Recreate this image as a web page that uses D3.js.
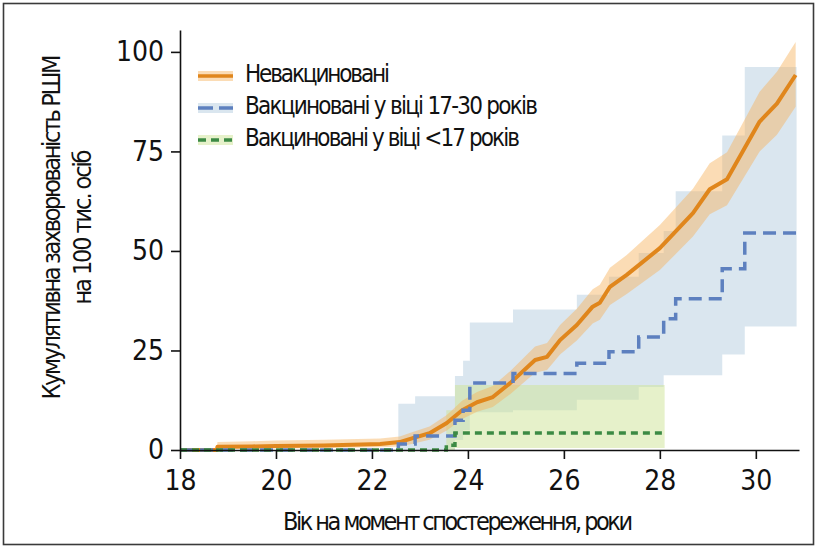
<!DOCTYPE html>
<html><head><meta charset="utf-8">
<script src="https://cdn.jsdelivr.net/npm/d3@7"></script>
<style>
html,body{margin:0;padding:0;background:#fff;}
svg{display:block;}
text{font-family:"Liberation Sans Narrow","DejaVu Sans Condensed","Arial Narrow",sans-serif;fill:#111;}
</style></head>
<body>
<script>
// ---- data ----
const xTicks = [18, 20, 22, 24, 26, 28, 30];
const yTicks = [0, 25, 50, 75, 100];

const unvacAges  = [18, 18.77, 18.78, 19.5, 20, 21, 22.17, 22.58, 22.85, 23.2, 23.56, 23.88, 24.19, 24.52, 24.88, 25.4, 25.65, 25.92, 26.27, 26.6, 26.75, 26.96, 27.31, 28.0, 28.69, 29.04, 29.4, 30.08, 30.44, 30.83];
const unvacVals  = [0, 0, 0.8, 0.9, 1.0, 1.1, 1.5, 2, 3, 4.2, 6.8, 10, 12, 13.3, 16.8, 22.6, 23.4, 27.6, 31.4, 36, 37, 41, 44, 50.7, 59.5, 65.5, 68, 82.5, 87, 94.2];
const unvacLower = [0, 0, 0.3, 0.3, 0.4, 0.5, 0.7, 0.9, 1.6, 2.6, 4.9, 7.8, 9.6, 10.8, 14, 19.4, 20.1, 24, 27.5, 31.8, 32.7, 36.4, 39.2, 45.2, 53.6, 59.2, 61.5, 75, 79.2, 86.2];
const unvacUpper = [0, 0, 2, 2.2, 2.4, 2.6, 2.9, 3.4, 4.5, 5.9, 8.8, 12.4, 14.6, 16.1, 19.8, 26, 26.9, 31.4, 35.5, 40.4, 41.5, 45.8, 49, 56.5, 65.6, 72, 74.8, 90, 95, 102.5];

const vac1730Ages  = [18, 22.55, 22.9, 23.73, 23.9, 24.04, 24.94, 26.27, 26.94, 27.56, 28.08, 28.33, 29.3, 29.77, 30.85];
const vac1730Vals  = [0, 1.5, 3.5, 7.5, 10, 16.8, 19.2, 21.8, 24.7, 28.4, 33, 38, 45.5, 54.5, 54.5];
const vac1730Lower = [0, 0, 0, 2.5, 5, 9.5, 10, 12.6, 12.6, 15.8, 18.8, 18.8, 24, 31, 31];
const vac1730Upper = [0, 11.6, 13.5, 18.6, 22.4, 32, 35.3, 39, 43.5, 49.5, 55, 65, 79, 96.2, 96.2];

const vacU17Ages  = [18, 23.55, 23.73, 28.1];
const vacU17Vals  = [0, 1.2, 4.3, 4.3];
const vacU17Lower = [0, 0, 0.5, 0.5];
const vacU17Upper = [0, 10, 16.3, 16.3];

const legendLabels = ["Невакциновані", "Вакциновані у віці 17-30 років", "Вакциновані у віці <17 років"];
const xTitle = "Вік на момент спостереження, роки";
const yTitle1 = "Кумулятивна захворюваність РШМ";
const yTitle2 = "на 100 тис. осіб";

// ---- drawing ----
const W = 819, H = 549;
const svg = d3.select("body").append("svg").attr("width", W).attr("height", H);
svg.append("rect").attr("x", 3.5).attr("y", 3.5).attr("width", 810).attr("height", 541)
  .attr("fill", "#fff").attr("stroke", "#3a3a3a").attr("stroke-width", 1.6);

const x = d3.scaleLinear().domain([18, 30.9]).range([180, 799]);
const y = d3.scaleLinear().domain([0, 105.5]).range([450, 30]);

const zip = (a, v, lo, hi) => a.map((d, i) => ({a: d, v: v[i], lo: lo ? lo[i] : 0, hi: hi ? hi[i] : 0}));
const unvac = zip(unvacAges, unvacVals, unvacLower, unvacUpper);
const v1730 = zip(vac1730Ages, vac1730Vals, vac1730Lower, vac1730Upper);
const vU17 = zip(vacU17Ages, vacU17Vals, vacU17Lower, vacU17Upper);

const C = {
  orange: "#e0861c", orangeBand: "rgba(246,178,92,0.45)",
  blue: "#5d80bf", blueBand: "rgba(168,196,218,0.42)",
  green: "#3c8a44", greenBand: "rgba(205,228,150,0.5)"
};

const areaStep = d3.area().x(d => x(d.a)).y0(d => y(d.lo)).y1(d => y(d.hi)).curve(d3.curveStepAfter);
const areaLin = d3.area().x(d => x(d.a)).y0(d => y(d.lo)).y1(d => y(d.hi));
const lineStep = d3.line().x(d => x(d.a)).y(d => y(d.v)).curve(d3.curveStepAfter);
const lineLin = d3.line().x(d => x(d.a)).y(d => y(d.v));

svg.append("path").datum(v1730).attr("d", areaStep).attr("fill", C.blueBand);
svg.append("path").datum(vU17).attr("d", areaStep).attr("fill", C.greenBand);
svg.append("path").datum(unvac).attr("d", areaLin).attr("fill", C.orangeBand);

svg.append("path").datum(unvac).attr("d", lineLin).attr("fill", "none")
  .attr("stroke", C.orange).attr("stroke-width", 4).attr("stroke-linejoin", "round");
svg.append("path").datum(v1730).attr("d", lineStep).attr("fill", "none")
  .attr("stroke", C.blue).attr("stroke-width", 3.5).attr("stroke-dasharray", "13,7");
svg.append("path").datum(vU17).attr("d", lineStep).attr("fill", "none")
  .attr("stroke", C.green).attr("stroke-width", 3.5).attr("stroke-dasharray", "7,5");

// axes
const gx = svg.append("g").attr("transform", "translate(0,450)")
  .call(d3.axisBottom(x).tickValues(xTicks).tickFormat(d3.format("d")).tickSize(9).tickSizeOuter(0).tickPadding(11));
const gy = svg.append("g").attr("transform", "translate(180,0)")
  .call(d3.axisLeft(y).tickValues(yTicks).tickFormat(d3.format("d")).tickSize(9).tickSizeOuter(0).tickPadding(7));
[gx, gy].forEach(g => {
  g.select(".domain").attr("stroke", "#111").attr("stroke-width", 1.6);
  g.selectAll(".tick line").attr("stroke", "#111").attr("stroke-width", 1.6);
  g.selectAll(".tick text").attr("font-size", 28).attr("fill", "#111")
    .style("font-family", "'Liberation Sans Narrow','DejaVu Sans Condensed',sans-serif");
});

svg.append("text").attr("x", 458).attr("y", 530).attr("text-anchor", "middle")
  .attr("font-size", 25).attr("textLength", 350).text(xTitle);
svg.append("text").attr("transform", "translate(60,227) rotate(-90)").attr("text-anchor", "middle")
  .attr("font-size", 25).attr("textLength", 345).text(yTitle1);
svg.append("text").attr("transform", "translate(91,227) rotate(-90)").attr("text-anchor", "middle")
  .attr("font-size", 25).attr("textLength", 155).text(yTitle2);

// legend
const legY = [82, 114, 146];
const legW = [145, 293, 275];
const legStyles = [
  {band: C.orangeBand, stroke: C.orange, dash: null},
  {band: C.blueBand, stroke: C.blue, dash: "15,6"},
  {band: C.greenBand, stroke: C.green, dash: "8,5"}
];
legendLabels.forEach((lab, i) => {
  const cy = legY[i] - 6;
  const s = legStyles[i];
  svg.append("rect").attr("x", 198).attr("y", cy - 5).attr("width", 35).attr("height", 10).attr("fill", s.band);
  svg.append("line").attr("x1", 198).attr("x2", 233).attr("y1", cy).attr("y2", cy)
    .attr("stroke", s.stroke).attr("stroke-width", 3.5).attr("stroke-dasharray", s.dash);
  svg.append("text").attr("x", 245).attr("y", legY[i]).attr("font-size", 24)
    .attr("textLength", legW[i]).text(lab);
});
</script>
</body></html>
